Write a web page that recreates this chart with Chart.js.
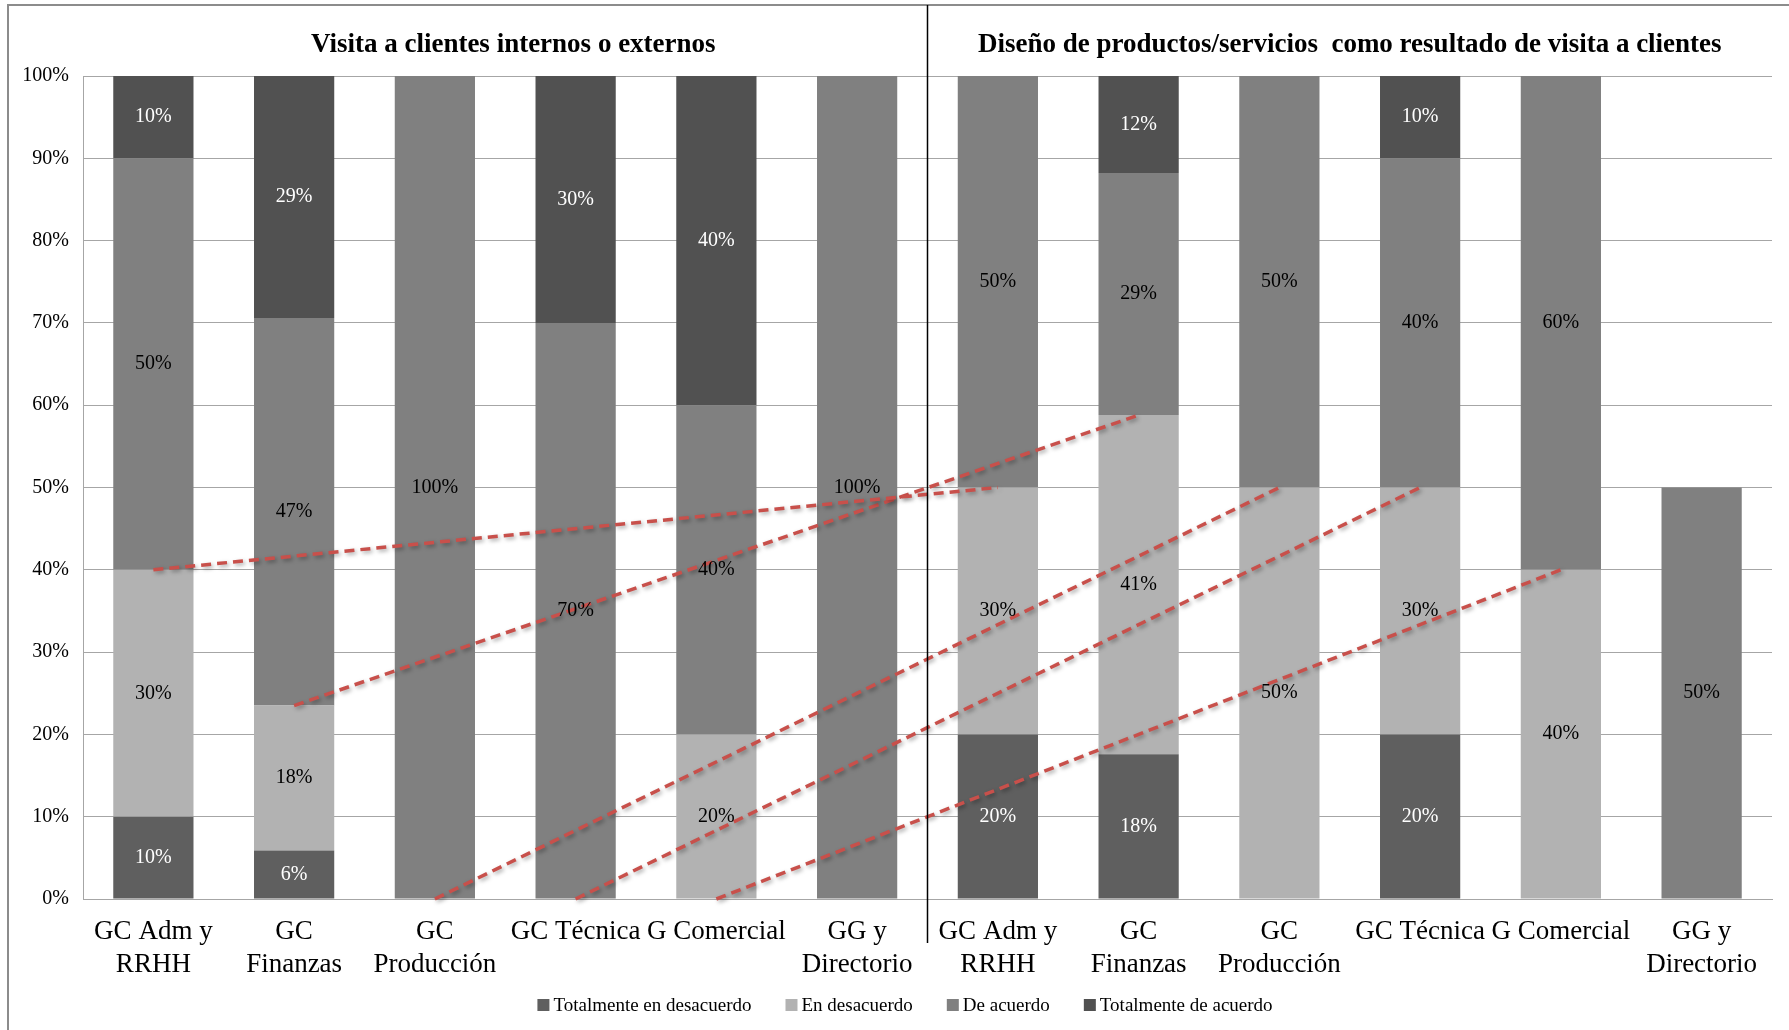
<!DOCTYPE html>
<html>
<head>
<meta charset="utf-8">
<script src="https://cdn.jsdelivr.net/npm/chart.js@4/dist/chart.umd.min.js"></script>
<style>
  body { margin: 0; background: #fff; }
  #wrap { width: 1789px; height: 1030px; position: relative; }
</style>
</head>
<body>
<div id="wrap"><canvas id="chart"></canvas></div>
<script>
const categories = [
    ["GC Adm y", "RRHH"], ["GC", "Finanzas"], ["GC", "Producción"], "GC Técnica", "G Comercial", ["GG y", "Directorio"],
    ["GC Adm y", "RRHH"], ["GC", "Finanzas"], ["GC", "Producción"], "GC Técnica", "G Comercial", ["GG y", "Directorio"]
];
const sectionTitles = ["Visita a clientes internos o externos", "Diseño de productos/servicios  como resultado de visita a clientes"];
const seriesNames = ["Totalmente en desacuerdo", "En desacuerdo", "De acuerdo", "Totalmente de acuerdo"];

const totDesacuerdo = [10, 5.9, 0, 0, 0, 0, 20, 17.6, 0, 20, 0, 0];
const enDesacuerdo = [30, 17.6, 0, 0, 20, 0, 30, 41.2, 50, 30, 40, 0];
const deAcuerdo = [50, 47.1, 100, 70, 40, 100, 50, 29.4, 50, 40, 60, 50];
const totAcuerdo = [10, 29.4, 0, 30, 40, 0, 0, 11.8, 0, 10, 0, 0];

// red dashed connectors drawn over the bars
const lineAdm = [40, null, null, null, null, null, 50, null, null, null, null, null];
const lineFin = [null, 23.5, null, null, null, null, null, 58.8, null, null, null, null];
const lineProd = [null, null, 0, null, null, null, null, null, 50, null, null, null];
const lineTec = [null, null, null, 0, null, null, null, null, null, 50, null, null];
const lineCom = [null, null, null, null, 0, null, null, null, null, null, 40, null];

const yTicks = [0, 10, 20, 30, 40, 50, 60, 70, 80, 90, 100];

const serif = "'Liberation Serif', 'Times New Roman', serif";
const barColors = ["#5f5f5f", "#b2b2b2", "#808080", "#515151"];
const labelColors = ["#ffffff", "#000000", "#000000", "#ffffff"];

function barSet(i, data) {
    return {
        type: "bar",
        label: seriesNames[i],
        data: data,
        backgroundColor: barColors[i],
        barPercentage: 0.57,
        categoryPercentage: 1,
        order: 1
    };
}

function redLine(data, key) {
    return {
        type: "line",
        label: "_line",
        data: data,
        stack: key,
        spanGaps: true,
        borderColor: "#c8504b",
        borderWidth: 3.5,
        borderDash: [10, 6],
        pointRadius: 0,
        fill: false,
        clip: false,
        order: 0
    };
}

const framePlugin = {
    id: "frame",
    beforeDraw(chart) {
        const ctx = chart.ctx;
        ctx.save();
        ctx.fillStyle = "#fff";
        ctx.fillRect(0, 0, chart.width, chart.height);
        ctx.strokeStyle = "#8c8c8c";
        ctx.lineWidth = 2;
        ctx.beginPath();
        ctx.moveTo(8, chart.height);
        ctx.lineTo(8, 5);
        ctx.lineTo(chart.width, 5);
        ctx.stroke();
        ctx.restore();
    },
    afterDraw(chart) {
        const ctx = chart.ctx;
        const x = chart.scales.x;
        const area = chart.chartArea;
        const mid = (x.getPixelForValue(5) + x.getPixelForValue(6)) / 2;
        ctx.save();
        ctx.strokeStyle = "#000";
        ctx.lineWidth = 1.5;
        ctx.beginPath();
        ctx.moveTo(mid, 5);
        ctx.lineTo(mid, 943);
        ctx.stroke();
        // section titles
        ctx.fillStyle = "#000";
        ctx.font = "bold 27px " + serif;
        ctx.textAlign = "center";
        ctx.textBaseline = "middle";
        ctx.fillText(sectionTitles[0], (area.left + mid) / 2 + 8, 45);
        ctx.fillText(sectionTitles[1], (mid + area.right) / 2, 45);

        // legend (bar series only)
        ctx.font = "19px " + serif;
        ctx.textAlign = "left";
        const box = 12, gap = 4, spacing = 34, ly = 1006;
        const widths = seriesNames.map(n => ctx.measureText(n).width);
        const total = widths.reduce((s, w) => s + box + gap + w, 0) + spacing * (seriesNames.length - 1);
        let lx = 905 - total / 2;
        seriesNames.forEach((n, i) => {
            ctx.fillStyle = barColors[i];
            ctx.fillRect(lx, ly - box / 2 - 1, box, box);
            ctx.fillStyle = "#000";
            ctx.fillText(n, lx + box + gap, ly);
            lx += box + gap + widths[i] + spacing;
        });
        ctx.restore();
    }
};

const shadowPlugin = {
    id: "lineShadow",
    beforeDatasetDraw(chart, args) {
        if (args.meta.type !== "line") return;
        const ctx = chart.ctx;
        ctx.save();
        ctx.shadowColor = "rgba(0,0,0,0.35)";
        ctx.shadowBlur = 4;
        ctx.shadowOffsetX = 2;
        ctx.shadowOffsetY = 2;
    },
    afterDatasetDraw(chart, args) {
        if (args.meta.type !== "line") return;
        chart.ctx.restore();
    }
};

const valueLabels = {
    id: "valueLabels",
    afterDatasetsDraw(chart) {
        const ctx = chart.ctx;
        ctx.save();
        ctx.font = "20px " + serif;
        ctx.textAlign = "center";
        ctx.textBaseline = "middle";
        chart.data.datasets.forEach((ds, i) => {
            if (ds.type !== "bar") return;
            const meta = chart.getDatasetMeta(i);
            meta.data.forEach((bar, j) => {
                const v = ds.data[j];
                if (!v) return;
                const p = bar.getProps(["x", "y", "base"], true);
                ctx.fillStyle = labelColors[i];
                ctx.fillText(Math.round(v) + "%", p.x, (p.y + p.base) / 2);
            });
        });
        ctx.restore();
    }
};

new Chart(document.getElementById("chart"), {
    data: {
        labels: categories,
        datasets: [
            barSet(0, totDesacuerdo),
            barSet(1, enDesacuerdo),
            barSet(2, deAcuerdo),
            barSet(3, totAcuerdo),
            redLine(lineAdm, "l1"),
            redLine(lineFin, "l2"),
            redLine(lineProd, "l3"),
            redLine(lineTec, "l4"),
            redLine(lineCom, "l5")
        ]
    },
    options: {
        responsive: true,
        maintainAspectRatio: false,
        devicePixelRatio: 1,
        animation: false,
        layout: { padding: { top: 76, right: 17, bottom: 43, left: 0 } },
        plugins: {
            legend: { display: false },
            tooltip: { enabled: false }
        },
        scales: {
            x: {
                stacked: true,
                grid: { display: false, drawTicks: false },
                border: { color: "#a6a6a6", width: 1 },
                ticks: {
                    color: "#000",
                    padding: 17,
                    maxRotation: 0,
                    autoSkip: false,
                    font: { family: serif, size: 27, lineHeight: 1.2 }
                },
                afterFit: s => { s.height = 88; }
            },
            y: {
                stacked: true,
                min: 0,
                max: 100,
                afterBuildTicks: s => { s.ticks = yTicks.map(v => ({ value: v })); },
                grid: { color: "#a6a6a6", lineWidth: 1, drawTicks: false },
                border: { color: "#a6a6a6", width: 1 },
                ticks: {
                    color: "#000",
                    padding: 14,
                    font: { family: serif, size: 20 },
                    callback: v => v + "%"
                },
                afterFit: s => { s.width = 83; }
            }
        }
    },
    plugins: [framePlugin, shadowPlugin, valueLabels]
});
</script>
</body>
</html>
